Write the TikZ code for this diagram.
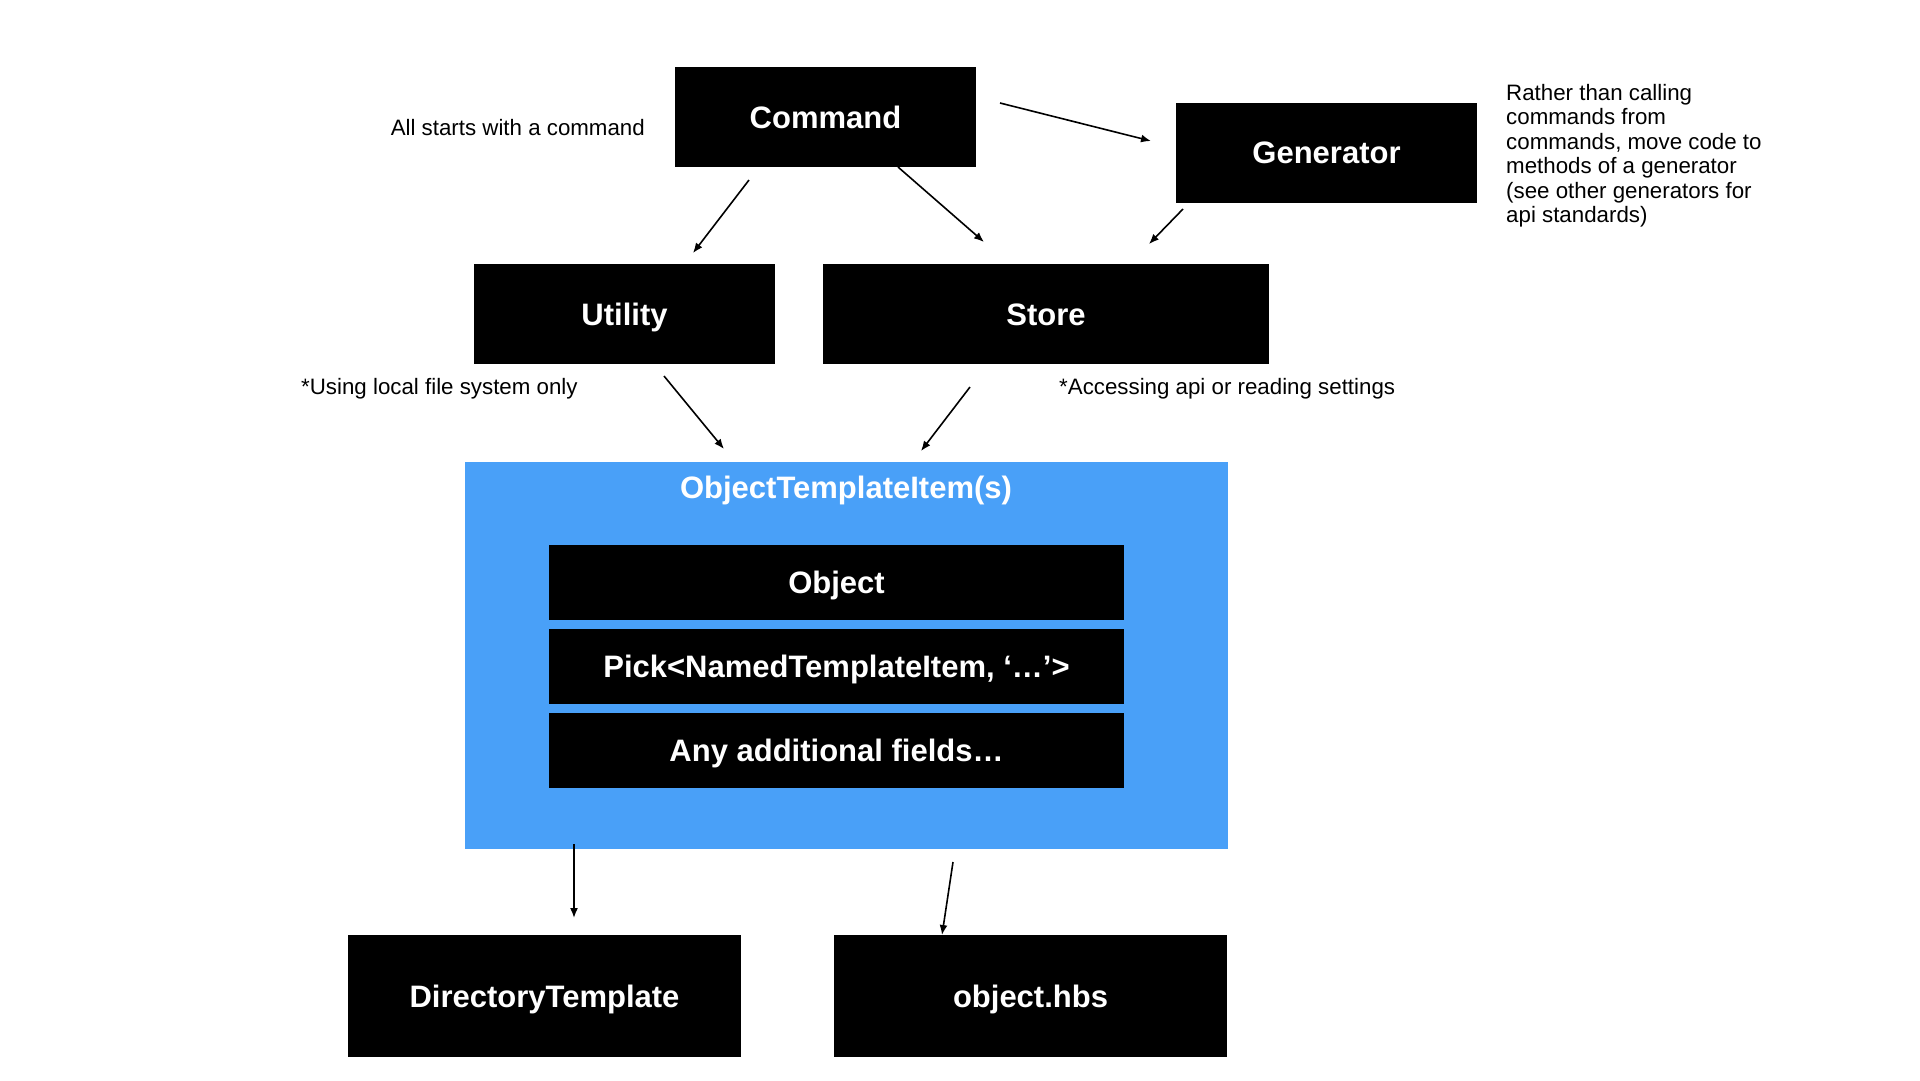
\documentclass[tikz,border=0pt]{standalone}
\usepackage{fontspec}
\setmainfont{Liberation Sans}
\usepackage{xcolor}
\usetikzlibrary{arrows.meta, positioning}
\definecolor{itemblue}{RGB}{73,160,248}

\begin{document}
\begin{tikzpicture}[x=1pt, y=-1pt,
    box/.style={fill=black, text=white, inner sep=0pt, minimum height=100pt,
        text height=22pt, text depth=0pt,
        font=\fontsize{31}{36}\selectfont\bfseries},
    field/.style={box, minimum width=575pt, minimum height=75pt},
    note/.style={inner sep=0pt, font=\fontsize{22.3}{24.5}\selectfont},
    arr/.style={-{Latex[length=10pt, width=8pt]}, line width=1.6pt}]
    \useasboundingbox (0,0) rectangle (1920,1080);
    % boxes
    \node[box, minimum width=301pt] (cmd) at (825.5,117) {Command};
    \node[box, minimum width=301pt] (gen) at (1326.5,152.5) {Generator};
    \node[box, minimum width=301pt] (util) at (624.5,314) {Utility};
    \node[box, minimum width=446pt] (store) at (1046,314) {Store};
    \node[fill=itemblue, minimum width=763pt, minimum height=387pt, inner sep=0pt] (item) at (846.5,655.5) {};
    \node[text=white, inner sep=0pt, text height=22pt, text depth=0pt,
        font=\fontsize{31}{36}\selectfont\bfseries] (title) at (846,487) {ObjectTemplateItem(s)};
    \node[field] (obj) at (836.5,582) {Object};
    \node[field] (pick) at (836.5,666) {Pick<NamedTemplateItem, ‘…’>};
    \node[field] (extra) at (836.5,750) {Any additional fields…};
    \node[box, minimum width=393pt, minimum height=122pt] (dir) at (544.5,996) {DirectoryTemplate};
    \node[box, minimum width=393pt, minimum height=122pt] (hbs) at (1030.5,996) {object.hbs};
    % notes
    \node[note, anchor=east] (start) at (645,128) {All starts with a command};
    \node[note, anchor=west] (local) at (301,389) {*Using local file system only};
    \node[note, anchor=west] (api) at (1059,389) {*Accessing api or reading settings};
    \node[note, anchor=north west, align=left] (advice) at (1506,84)
        {Rather than calling\\commands from\\commands, move code to\\methods of a generator\\(see other generators for\\api standards)};
    % arrow ends
    \coordinate (a1) at (1000,103); \coordinate (b1) at (1151,141);
    \coordinate (a2) at (749,180);  \coordinate (b2) at (693,253);
    \coordinate (a3) at (898,167);  \coordinate (b3) at (984,242);
    \coordinate (a4) at (1183,209); \coordinate (b4) at (1149,244);
    \coordinate (a5) at (664,376);  \coordinate (b5) at (724,449);
    \coordinate (a6) at (970,387);  \coordinate (b6) at (921,451);
    \coordinate (a7) at (574,844);  \coordinate (b7) at (574,918);
    \coordinate (a8) at (953,862);  \coordinate (b8) at (942,935);
    \foreach \i in {1,...,8}
        \draw[arr] (a\i) -- (b\i);
\end{tikzpicture}
\end{document}
